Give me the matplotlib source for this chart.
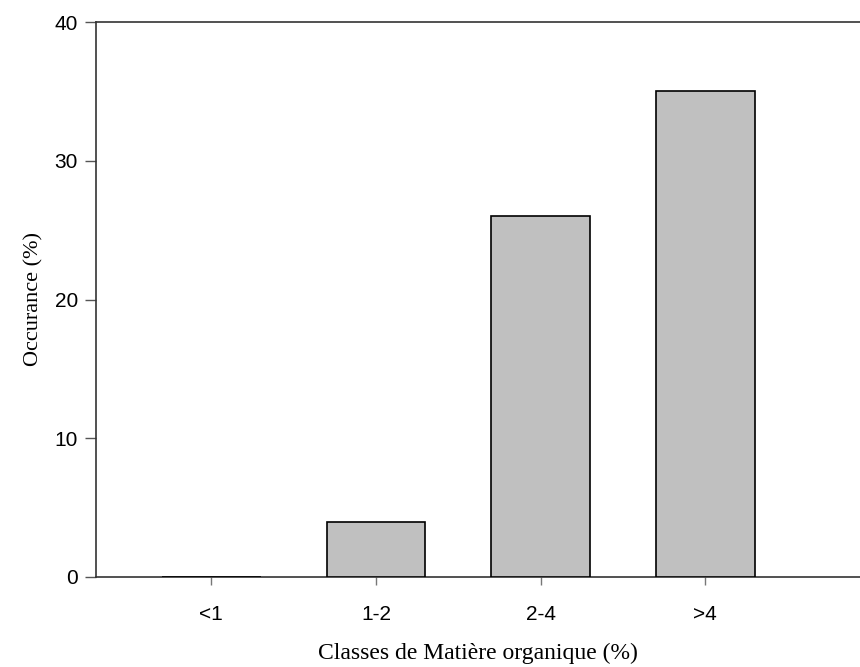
import numpy as np
from matplotlib import pyplot as plt

categories = ['<1', '1-2', '2-4', '>4']
occurance = [0, 4, 26, 35]
y_ticks = [0, 10, 20, 30, 40]

fig = plt.figure(figsize=(8.6, 6.67), dpi=100)
ax = fig.add_axes([96 / 860, 90 / 667, 764 / 860, 555 / 667])

x = np.arange(len(categories))
ax.bar(x, occurance, width=0.6, color='#c0c0c0', edgecolor='black', linewidth=1.2, zorder=3)

ax.set_xlim(-0.7, 3.94)
ax.set_ylim(0, 40)
ax.set_xticks(x)
ax.set_xticklabels(categories, fontsize=15, family='Liberation Sans')
ax.set_yticks(y_ticks)
ax.set_yticklabels([str(t) for t in y_ticks], fontsize=15, family='Liberation Sans')

for side in ['left', 'bottom', 'top']:
    ax.spines[side].set_color('#333333')
    ax.spines[side].set_linewidth(1.2)
ax.spines['right'].set_visible(False)
ax.tick_params(axis='x', direction='out', length=6, width=1, color='#777777', pad=14)
ax.tick_params(axis='y', direction='out', length=8, width=1, color='#555555', pad=5)

ax.set_xlabel('Classes de Matière organique (%)', fontsize=17, family='Liberation Serif', labelpad=14)
ax.set_ylabel('Occurance (%)', fontsize=16, family='Liberation Serif', labelpad=8)

plt.savefig('out.png', dpi=100)
